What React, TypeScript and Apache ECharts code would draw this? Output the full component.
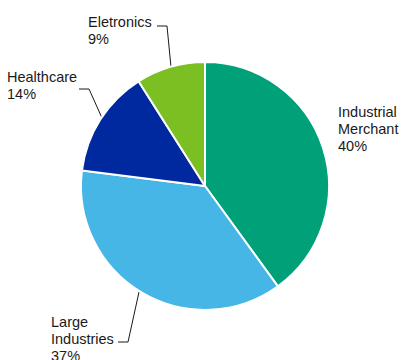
import React, { useEffect, useRef } from "react";
import * as echarts from "echarts";

const categories = ["Industrial Merchant", "Large Industries", "Healthcare", "Eletronics"];
const values = [40, 37, 14, 9];
const colors = ["#00A078", "#45B6E6", "#0029A0", "#7BBF22"];

// label placement (top-left) and leader lines, per slice
const labelPos: number[][] = [
  [338, 103.5],
  [51, 313.5],
  [7, 68.5],
  [88, 13.5],
];
const leaderLines: (number[][] | null)[] = [
  null,
  [[139, 292], [128, 342], [118, 342]],
  [[102, 118], [89, 89], [79, 89]],
  [[171, 67], [167, 26], [157, 26]],
];

export default function App() {
  const ref = useRef<HTMLDivElement>(null);
  useEffect(() => {
    if (!ref.current) return;
    const chart = echarts.init(ref.current, null, { renderer: "svg" });
    chart.setOption({
      animation: false,
      series: [
        {
          type: "pie",
          center: [205, 186],
          radius: 124,
          startAngle: 90,
          clockwise: true,
          silent: true,
          edgeDistance: 0,
          itemStyle: { borderColor: "#ffffff", borderWidth: 2 },
          label: {
            show: true,
            position: "outside",
            overflow: "none",
            width: 200,
            fontFamily: "Liberation Sans, Arial, sans-serif",
            fontSize: 14.5,
            lineHeight: 17,
            color: "#1a1a1a",
            align: "left",
            formatter: (p: any) => p.name.replace(" ", "\n") + "\n" + p.value + "%",
          },
          labelLine: { show: true, lineStyle: { color: "#1a1a1a", width: 1 } },
          labelLayout: (params: any) => {
            const i = params.dataIndex;
            const out: any = {
              x: labelPos[i][0],
              y: labelPos[i][1],
              align: "left",
              verticalAlign: "top",
            };
            if (leaderLines[i]) out.labelLinePoints = leaderLines[i];
            return out;
          },
          data: categories.map((name, i) => ({
            name,
            value: values[i],
            itemStyle: { color: colors[i] },
            labelLine: { show: leaderLines[i] !== null },
          })),
        },
      ],
    });
    return () => chart.dispose();
  }, []);
  return (
    <div
      ref={ref}
      style={{ position: "fixed", left: 0, top: 0, width: 401, height: 360, background: "#fff" }}
    />
  );
}
